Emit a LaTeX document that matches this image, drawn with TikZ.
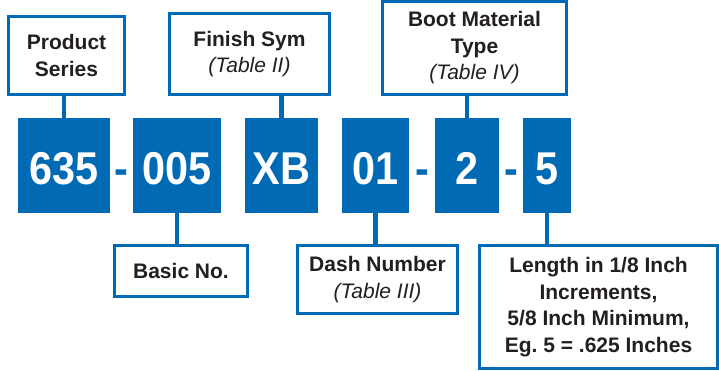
\documentclass[tikz,border=0pt]{standalone}
\usepackage{fontspec}
\setmainfont{Liberation Sans}
\newfontfamily\codefont{Liberation Sans}[FakeStretch=0.9]
\usetikzlibrary{math}
\definecolor{codeblue}{RGB}{0,106,180}
\definecolor{labelgray}{RGB}{35,31,32}
\frenchspacing

\begin{document}
\begin{tikzpicture}[x=1pt, y=-1pt,
    codebox/.style={fill=codeblue, text=white, inner sep=0pt, minimum height=95pt,
        text height=39pt, text depth=0pt, font=\codefont\fontsize{46}{46}\selectfont\bfseries},
    sepdash/.style={text=codeblue, inner sep=0pt, anchor=base, font=\codefont\fontsize{46}{46}\selectfont\bfseries},
    labelbox/.style={draw=codeblue, line width=3.2pt, fill=white, text=labelgray, align=center,
        inner sep=0pt, font=\fontsize{21}{26.5}\selectfont\bfseries},
    link/.style={draw=codeblue, line width=4.5pt}]
            \tikzmath{\rowy = 165.5; \base = 185; \lw = 3.2;}
            \useasboundingbox (0,0) rectangle (719,371);

            \node[codebox, minimum width=92pt] (b635) at (64,\rowy) {635};
            \node[codebox, minimum width=88pt] (b005) at (177,\rowy) {005};
            \node[codebox, minimum width=73pt] (bXB) at (281.5,\rowy) {XB};
            \node[codebox, minimum width=67pt] (b01) at (375.5,\rowy) {01};
            \node[codebox, minimum width=64pt] (b2) at (467,\rowy) {2};
            \node[codebox, minimum width=48pt] (b5) at (547,\rowy) {5};

            \node[sepdash] (d1) at (121.5,\base) {-};
            \node[sepdash] (d2) at (422,\base) {-};
            \node[sepdash] (d3) at (511,\base) {-};

            \node[labelbox, minimum width=119pt-\lw pt, minimum height=81pt-\lw pt] (prod) at (66.5,55.5) {Product\\Series};
            \node[labelbox, minimum width=163pt-\lw pt, minimum height=84pt-\lw pt] (finish) at (249.5,54) {Finish Sym\\{\mdseries\itshape (Table II)}};
            \node[labelbox, minimum width=187pt-\lw pt, minimum height=96pt-\lw pt] (boot) at (474.5,48) {Boot Material\\Type\\{\mdseries\itshape (Table IV)}};
            \node[labelbox, minimum width=136pt-\lw pt, minimum height=54pt-\lw pt] (basic) at (181,271) {Basic No.};
            \node[labelbox, minimum width=163pt-\lw pt, minimum height=71pt-\lw pt] (dash) at (377.5,279.5) {Dash Number\\{\mdseries\itshape (Table III)}};
            \node[labelbox, minimum width=241pt-\lw pt, minimum height=126pt-\lw pt] (length) at (598.5,307) {Length in 1/8 Inch\\Increments,\\5/8 Inch Minimum,\\Eg. 5 = .625 Inches};

            \draw[link] (b635.north) -- (b635.north |- prod.south);
            \draw[link] (bXB.north) -- (bXB.north |- finish.south);
            \draw[link] (b2.north) -- (b2.north |- boot.south);
            \draw[link] (b005.south) -- (b005.south |- basic.north);
            \draw[link] (b01.south) -- (b01.south |- dash.north);
            \draw[link] (b5.south) -- (b5.south |- length.north);
        \end{tikzpicture}
\end{document}
